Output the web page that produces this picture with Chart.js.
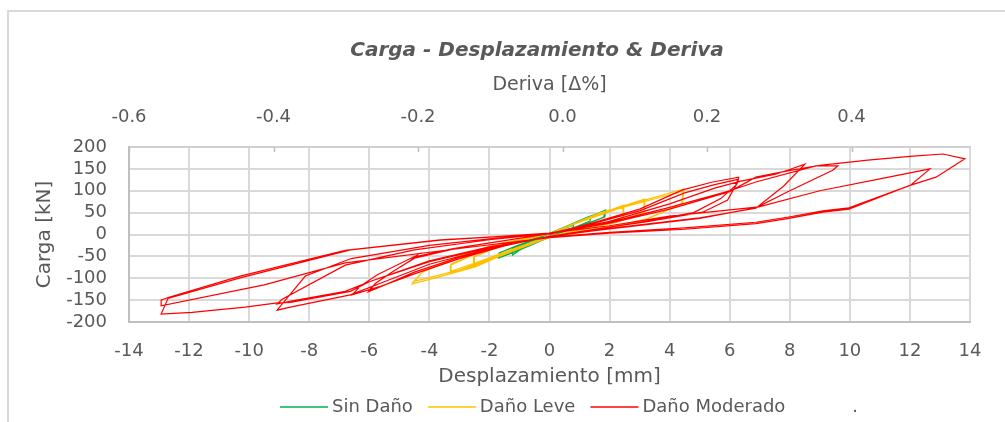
<!DOCTYPE html>
<html>
<head>
  <title>Carga - Desplazamiento & Deriva</title>
  <script src="https://cdn.jsdelivr.net/npm/chart.js@4.4.0/dist/chart.umd.min.js"></script>
  <style>
    html, body { margin: 0; padding: 0; background: #fff; }
  </style>
</head>
<body>
  <canvas id="chart" width="1005" height="422"></canvas>
  <script>
    // Ciclos de histeresis: [desplazamiento mm, carga kN]
    var sinDano = [
      [0,0],[0.4,11],[0.8,22],[0.78,14],[0.4,4],[0,-3],[-0.4,-13],[-0.8,-25],[-0.78,-16],[-0.4,-6],[0,2],
      [0.6,19],[1.0,29],[1.37,40],[1.35,31],[0.9,18],[0.4,6],[0,-4],[-0.6,-22],[-1.0,-36],[-1.23,-47],[-1.23,-32],[-0.7,-18],[-0.2,-4],[0,3],
      [0.6,20],[1.27,40],[1.6,48],[1.87,56],[1.84,40],[1.3,26],[0.6,12],[0,-6],[-0.6,-24],[-1.2,-41],[-1.7,-54],[-1.68,-42],[-1.1,-26],[-0.5,-11],[0,3],
      [0.7,21],[1.3,38],[1.85,52],[1.8,39],[1.2,24],[0.5,9],[0,-5],[-0.6,-22],[-1.2,-38],[-1.68,-50],[-1.6,-40],[-1.0,-24],[-0.4,-9],[0,2]
    ];

    var danoLeve = [
      [0,0],[1.2,35],[2.47,67],[2.47,40],[1.6,20],[0.8,8],[0,-4],[-1.2,-35],[-2.53,-70],[-2.53,-52],[-1.7,-28],[-0.8,-12],[0,2],
      [1.2,33],[2.45,63],[2.45,39],[1.6,19],[0.8,7],[0,-4],[-1.2,-33],[-2.5,-66],[-2.5,-50],[-1.7,-27],[-0.8,-11],[0,2],
      [1.6,46],[3.17,81],[3.17,52],[2.3,30],[1.2,13],[0,-5],[-1.6,-46],[-3.3,-88],[-3.3,-70],[-2.3,-40],[-1.2,-18],[0,2],
      [1.6,44],[3.15,77],[3.15,50],[2.3,29],[1.2,12],[0,-5],[-1.6,-44],[-3.28,-84],[-3.28,-68],[-2.3,-39],[-1.2,-17],[0,2],
      [1.7,50],[3.2,79],[4.47,104],[4.43,72],[3.2,35],[2.4,22],[1.2,9],[0,-6],[-1.7,-51],[-2.47,-74],[-3.8,-99],[-4.57,-113],[-4.23,-86],[-3.0,-50],[-1.7,-22],[0,2],
      [1.7,48],[3.2,76],[4.45,99],[4.4,70],[3.2,34],[2.4,21],[1.2,8],[0,-6],[-1.7,-49],[-2.47,-71],[-3.8,-95],[-4.52,-107],[-4.2,-84],[-3.0,-48],[-1.7,-21],[0,2]
    ];

    var danoModerado = [
      [0,0],[1.5,28],[3.0,58],[4.43,102],[5.43,120],[6.3,131],[6.27,120],[5.93,79],[5.1,51],[3.2,29],[1.5,12],[0,-4],
      [-1.5,-26],[-3.0,-55],[-4.5,-90],[-5.6,-118],[-6.57,-138],[-6.3,-118],[-5.73,-92],[-4.4,-47],[-4.55,-55],[-3.0,-30],[-1.5,-14],[0,2],
      [1.5,26],[3.0,54],[4.5,95],[5.5,114],[6.27,126],[6.2,112],[5.7,82],[4.8,50],[3.0,28],[1.5,11],[0,-4],
      [-1.5,-25],[-3.0,-52],[-4.5,-86],[-5.3,-110],[-6.03,-131],[-5.8,-112],[-5.2,-84],[-4.4,-50],[-3.2,-32],[-1.5,-14],[0,2],
      [2,30],[4,70],[5.5,106],[6.37,122],[7.53,138],[7.97,148],[8.5,161],[7.8,111],[6.87,60],[5.0,38],[3.0,22],[1.5,10],[0,-4],
      [-2,-32],[-4,-68],[-5.5,-108],[-6.63,-138],[-8.63,-166],[-9.07,-173],[-8.13,-95],[-6.6,-55],[-4.0,-25],[-2.0,-10],[0,3],
      [2,28],[4,62],[6.0,100],[6.87,120],[8.87,157],[9.6,157],[9.43,147],[8.0,100],[6.87,61],[5.0,37],[3.0,21],[1.5,9],[0,-5],
      [-2,-30],[-4,-62],[-6.0,-108],[-6.8,-130],[-8.6,-152],[-9.07,-159],[-8.9,-148],[-6.8,-70],[-4.5,-35],[-2.0,-12],[0,2],
      [2,26],[4,58],[6.0,98],[6.87,131],[7.97,146],[9.0,158],[10.6,170],[12.1,179],[13.1,184],[13.83,173],[12.87,131],[12.03,113],
      [9.97,61],[9.1,54],[7.97,40],[6.87,28],[4.5,15],[2.0,5],[0,-6],
      [-2,-28],[-4,-60],[-6.0,-108],[-6.63,-130],[-8.63,-155],[-9.13,-157],[-10.13,-166],[-11.9,-178],[-12.93,-182],[-12.7,-146],
      [-10.3,-99],[-6.63,-35],[-3.63,-13],[-2,-6],[0,3],
      [2,20],[4,42],[6.97,63],[9,100],[11,127],[12.67,150],[12.03,113],[9.97,58],[9.1,51],[7.97,37],[6.87,25],[4.5,12],[2,3],[0,-7],
      [-3,-32],[-6.8,-65],[-9.5,-115],[-12.93,-163],[-12.93,-150],[-12.7,-144],[-10.3,-95],[-6.8,-36],[-3.63,-12],[0,2]
    ];

    // Ejes
    var desplazamientoTicks = [-14, -12, -10, -8, -6, -4, -2, 0, 2, 4, 6, 8, 10, 12, 14];
    var derivaTicks = [-0.6, -0.4, -0.2, 0.0, 0.2, 0.4];
    var cargaTicks = [-200, -150, -100, -50, 0, 50, 100, 150, 200];

    var gris = '#595959';
    Chart.defaults.font.family = '"DejaVu Sans", sans-serif';
    Chart.defaults.color = gris;

    function puntos(serie) {
      return serie.map(function (p) { return { x: p[0], y: p[1] }; });
    }

    function serie(label, datos, color, orden) {
      return {
        label: label,
        data: puntos(datos),
        showLine: true,
        borderColor: color,
        backgroundColor: color,
        borderWidth: 1.2,
        pointRadius: 0,
        tension: 0,
        order: orden
      };
    }

    function fijarTicks(valores) {
      return function (s) { s.ticks = valores.map(function (v) { return { value: v }; }); };
    }

    // titulo, leyenda, marco y marcas del eje superior
    var decoracion = {
      id: 'decoracion',
      beforeDraw: function (chart) {
        var ctx = chart.ctx;
        ctx.save();
        ctx.fillStyle = '#ffffff';
        ctx.fillRect(0, 0, chart.width, chart.height);
        ctx.strokeStyle = '#d9d9d9';
        ctx.lineWidth = 2;
        ctx.beginPath();
        ctx.moveTo(8, chart.height);
        ctx.lineTo(8, 11);
        ctx.lineTo(chart.width, 11);
        ctx.stroke();
        ctx.restore();
      },
      afterDraw: function (chart) {
        var ctx = chart.ctx;
        var area = chart.chartArea;
        ctx.save();

        ctx.fillStyle = gris;
        ctx.font = 'italic bold 20px "DejaVu Sans"';
        ctx.textAlign = 'center';
        ctx.textBaseline = 'middle';
        ctx.fillText('Carga - Desplazamiento & Deriva', 537, 51);

        var x2 = chart.scales.x2;
        ctx.strokeStyle = '#bfbfbf';
        ctx.lineWidth = 1.5;
        x2.ticks.forEach(function (t) {
          var px = Math.round(x2.getPixelForValue(t.value)) + 0.5;
          ctx.beginPath();
          ctx.moveTo(px, area.top);
          ctx.lineTo(px, area.top + 5);
          ctx.stroke();
        });

        ctx.font = '18px "DejaVu Sans"';
        ctx.textAlign = 'left';
        var x = 280, y = 407;
        chart.data.datasets.forEach(function (ds) {
          ctx.strokeStyle = ds.borderColor;
          ctx.lineWidth = 1.5;
          ctx.beginPath();
          ctx.moveTo(x, y);
          ctx.lineTo(x + 48, y);
          ctx.stroke();
          ctx.fillStyle = gris;
          ctx.fillText(ds.label, x + 52, y);
          x += 48 + 4 + ctx.measureText(ds.label).width + 15;
        });
        ctx.restore();
      }
    };

    new Chart(document.getElementById('chart'), {
      type: 'scatter',
      data: {
        datasets: [
          serie('Sin Daño', sinDano, '#00b050', 2),
          serie('Daño Leve', danoLeve, '#ffc000', 1),
          serie('Daño Moderado', danoModerado, '#ff0000', 0),
          serie('.', [], 'rgba(255,255,255,0)', 3)
        ]
      },
      options: {
        responsive: false,
        animation: false,
        events: [],
        layout: { padding: { top: 70, right: 35, bottom: 30, left: 0 } },
        plugins: {
          legend: { display: false },
          tooltip: { enabled: false },
          title: { display: false }
        },
        scales: {
          x: {
            type: 'linear',
            position: 'bottom',
            min: -14,
            max: 14,
            afterBuildTicks: fijarTicks(desplazamientoTicks),
            ticks: { font: { size: 18 }, padding: 19, color: gris, autoSkip: false, maxRotation: 0 },
            grid: { color: '#d9d9d9', lineWidth: 2, drawTicks: false },
            border: { color: '#bfbfbf', width: 2 },
            title: { display: true, text: 'Desplazamiento [mm]', font: { size: 20 }, color: gris, padding: { top: 0, bottom: 3 } },
            afterFit: function (s) { s.height = 70; }
          },
          x2: {
            type: 'linear',
            position: 'top',
            min: -0.6,
            max: 0.564,
            afterBuildTicks: fijarTicks(derivaTicks),
            ticks: { font: { size: 18 }, padding: 19, color: gris, autoSkip: false, maxRotation: 0,
                     callback: function (v) { return v.toFixed(1); } },
            grid: { drawOnChartArea: false, drawTicks: false },
            border: { color: '#d0d0d0', width: 2 },
            title: { display: true, text: 'Deriva [Δ%]', font: { size: 19 }, color: gris, padding: { top: 4, bottom: 0 } },
            afterFit: function (s) { s.height = 77; }
          },
          y: {
            min: -200,
            max: 200,
            afterBuildTicks: fijarTicks(cargaTicks),
            ticks: { font: { size: 18 }, padding: 22, color: gris, autoSkip: false },
            grid: { color: '#d9d9d9', lineWidth: 2, drawTicks: false },
            border: { color: '#bfbfbf', width: 2 },
            title: { display: true, text: 'Carga [kN]', font: { size: 20 }, color: gris, padding: { top: 33, bottom: 0 } },
            afterFit: function (s) { s.width = 129; }
          }
        }
      },
      plugins: [decoracion]
    });
  </script>
</body>
</html>
